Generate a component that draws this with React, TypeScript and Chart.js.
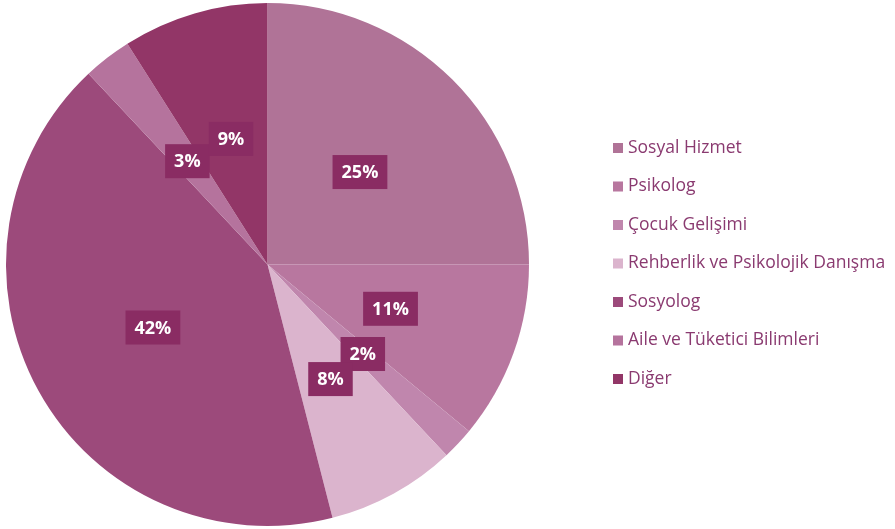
import React, { useEffect, useRef } from "react";
import { Chart, registerables } from "chart.js";

Chart.register(...registerables);

const categories = [
  "Sosyal Hizmet",
  "Psikolog",
  "Çocuk Gelişimi",
  "Rehberlik ve Psikolojik Danışma",
  "Sosyolog",
  "Aile ve Tüketici Bilimleri",
  "Diğer",
];
const percentages = [25, 11, 2, 8, 42, 3, 9];
const sliceColors = ["#b07397", "#b8779f", "#c086ad", "#dbb4cd", "#9c4a7b", "#b5739d", "#923667"];

const labelPlugin = {
  id: "sliceLabels",
  afterDatasetsDraw(chart: any) {
    const ctx = chart.ctx;
    const meta = chart.getDatasetMeta(0);
    const vals = chart.data.datasets[0].data;
    ctx.save();
    ctx.font = "bold 18px 'Open Sans', sans-serif";
    ctx.textAlign = "center";
    ctx.textBaseline = "middle";
    meta.data.forEach((arc: any, i: number) => {
      const p = arc.tooltipPosition();
      const text = vals[i] + "%";
      const w = ctx.measureText(text).width + 18;
      const h = 34;
      ctx.fillStyle = "#8a2c63";
      ctx.fillRect(p.x - w / 2, p.y - h / 2, w, h);
      ctx.fillStyle = "#ffffff";
      ctx.fillText(text, p.x, p.y + 1);
    });
    ctx.restore();
  },
};

const legendPlugin = {
  id: "sideLegend",
  afterDraw(chart: any) {
    const ctx = chart.ctx;
    const labels = chart.data.labels;
    const colors = chart.data.datasets[0].backgroundColor;
    ctx.save();
    ctx.font = "17.5px 'Open Sans', sans-serif";
    ctx.textAlign = "left";
    ctx.textBaseline = "middle";
    const x0 = 613;
    const y0 = 148;
    const step = 38.5;
    labels.forEach((lab: string, i: number) => {
      const y = y0 + i * step;
      ctx.fillStyle = colors[i];
      ctx.fillRect(x0, y - 5, 10, 10);
      ctx.fillStyle = "#8a3a70";
      ctx.fillText(lab, x0 + 15, y);
    });
    ctx.restore();
  },
};

export default function App() {
  const ref = useRef<HTMLCanvasElement>(null);
  useEffect(() => {
    document.body.style.margin = "0";
    const chart = new Chart(ref.current as HTMLCanvasElement, {
      type: "pie",
      data: {
        labels: categories,
        datasets: [
          {
            data: percentages,
            backgroundColor: sliceColors,
            borderWidth: 0,
          },
        ],
      },
      options: {
        animation: false,
        responsive: false,
        layout: { padding: { left: 5, right: 365, top: 3, bottom: 3 } },
        plugins: {
          legend: { display: false },
          tooltip: { enabled: false },
        },
      },
      plugins: [labelPlugin, legendPlugin],
    });
    return () => chart.destroy();
  }, []);
  return (
    <div style={{ width: 895, height: 529, background: "#fff" }}>
      <canvas ref={ref} width={895} height={529} />
    </div>
  );
}
